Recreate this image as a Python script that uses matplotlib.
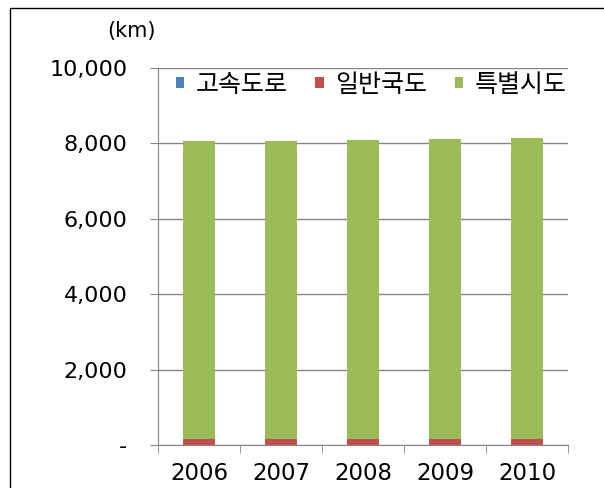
import matplotlib
matplotlib.use("Agg")
import matplotlib.pyplot as plt
import matplotlib.patches as mpatches
import numpy as np

plt.rcParams['font.family'] = ['Noto Sans CJK KR', 'DejaVu Sans']

years = ['2006', '2007', '2008', '2009', '2010']
series = ['고속도로', '일반국도', '특별시도']
highway = [0, 0, 0, 0, 0]
national = [165, 165, 165, 165, 165]
city = [7885, 7895, 7935, 7945, 7975]
colors = ['#4F81BD', '#C0504D', '#9BBB59']

fig = plt.figure(figsize=(6.04, 4.88), dpi=100)
ax = fig.add_axes([0.2616, 0.0881, 0.6788, 0.7726])

x = np.arange(len(years))
bottom = np.zeros(len(years))
for name, vals, c in zip(series, [highway, national, city], colors):
    ax.bar(x, vals, 0.4, bottom=bottom, color=c, label=name, zorder=3)
    bottom += np.array(vals)

ax.set_ylim(0, 10000)
ax.set_xlim(-0.5, len(years) - 0.5)
yt = np.arange(0, 10001, 2000)
ax.set_yticks(yt)
ax.set_yticklabels(['-' if v == 0 else f'{v:,}' for v in yt], fontsize=16,
                   family='DejaVu Sans')
ax.set_xticks(x)
ax.set_xticklabels(years, fontsize=16.5, family='DejaVu Sans')
ax.set_xticks(np.arange(-0.5, len(years)), minor=True)
ax.tick_params(axis='x', which='major', length=0, pad=12)
ax.tick_params(axis='x', which='minor', length=6, color='#868686', direction='out')
ax.tick_params(axis='y', length=6, color='#868686', direction='out', pad=16)
ax.grid(axis='y', color='#868686', linewidth=1, zorder=0)
for s in ['top', 'right']:
    ax.spines[s].set_visible(False)
for s in ['left', 'bottom']:
    ax.spines[s].set_color('#868686')

leg = ax.legend(loc='center', bbox_to_anchor=(0.52, 0.955), ncol=3, frameon=False,
                fontsize=18, handlelength=0.35, handleheight=0.3, handletextpad=0.45,
                columnspacing=1.1, borderpad=0, borderaxespad=0)

fig.text(0.217, 0.936, '(km)', fontsize=15, ha='center', va='center', family='DejaVu Sans')

border = mpatches.Rectangle((10 / 604, -0.05), 1.2, 1 - 8 / 488 + 0.05, transform=fig.transFigure,
                            fill=False, edgecolor='black', linewidth=1, clip_on=False)
fig.patches.append(border)

fig.savefig('out.png', dpi=100)
